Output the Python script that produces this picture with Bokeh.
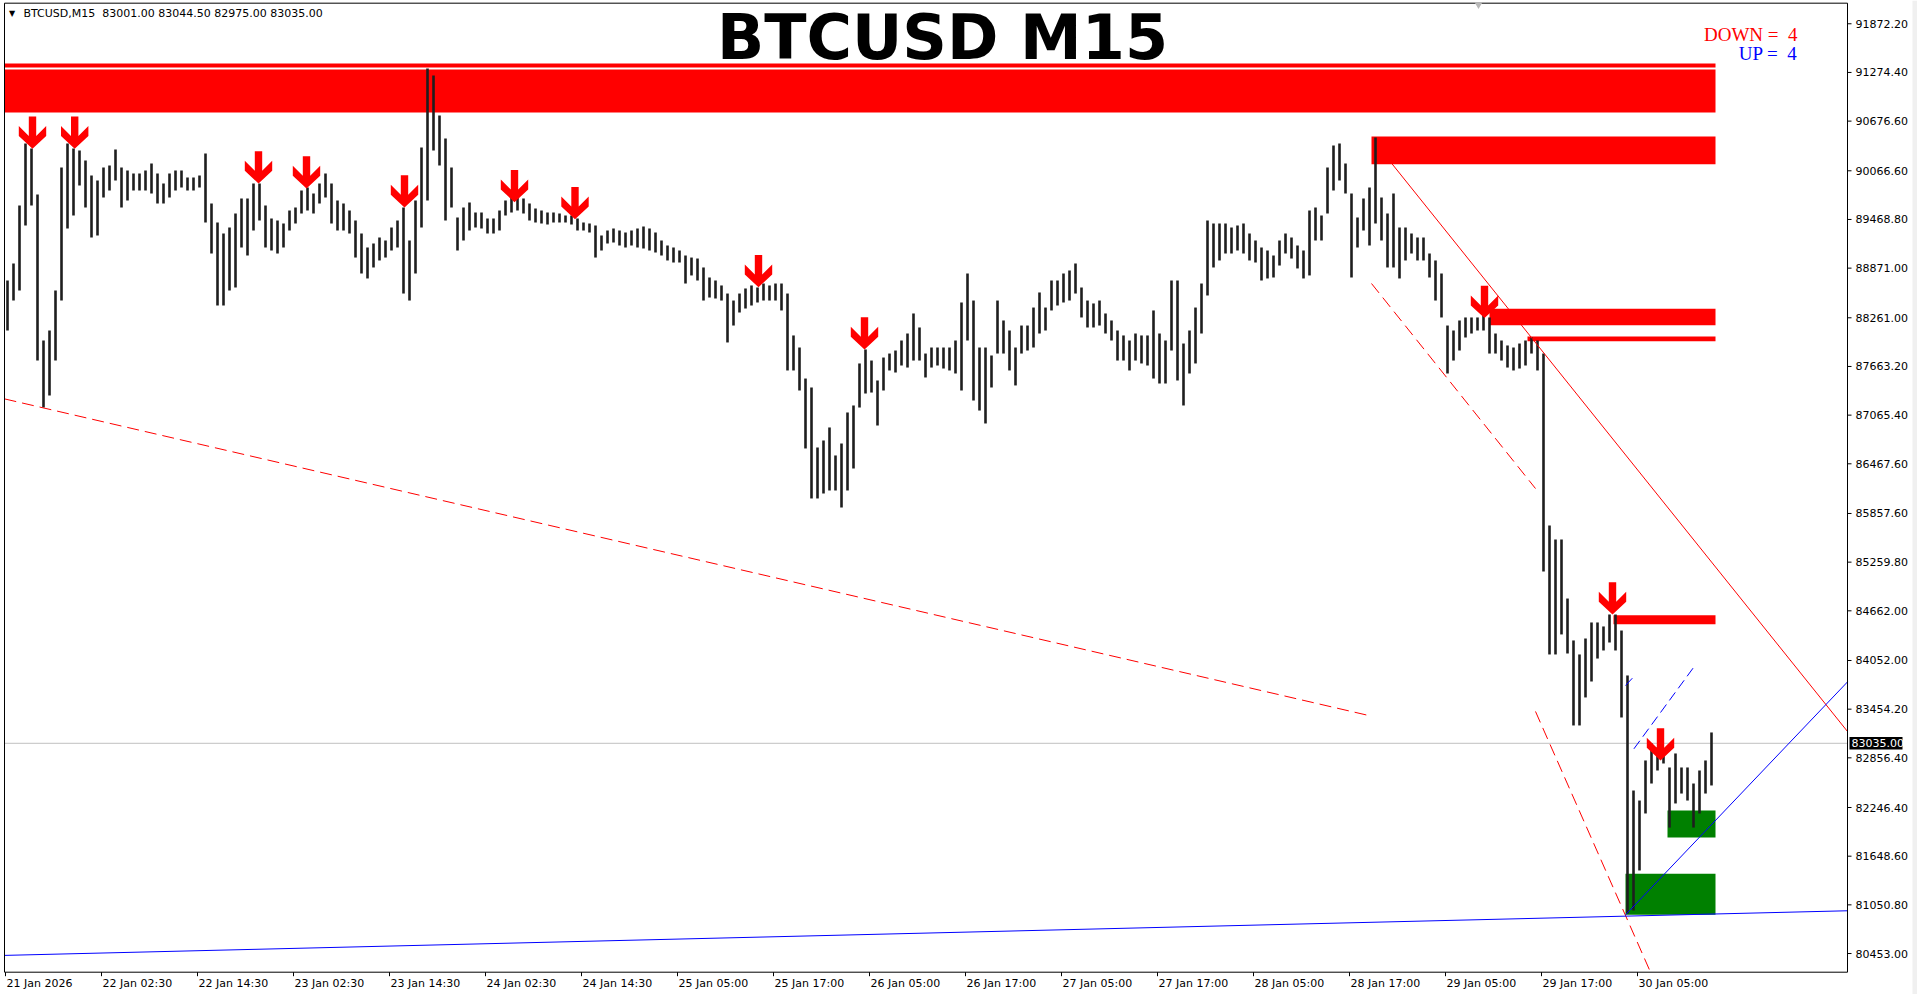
from bokeh.plotting import figure
from bokeh.models import Range1d
from bokeh.core.properties import value
from bokeh.embed import file_html
from bokeh.resources import INLINE

# ---------------- data ----------------
# price bars, one entry per 3 M15 bars (45 min), high / low
highs = [88719, 88928, 89640, 90402, 90340, 89775, 87982, 88105, 88596, 90107,
         90402, 90340, 90316, 90193, 90009, 89947, 90107, 90131, 90328, 90107,
         90070, 90033, 90033, 90070, 90156, 90033, 89910, 90033, 90070, 90070,
         89984, 89984, 90009, 90279, 89665, 89431, 89296, 89370, 89542, 89726,
         89726, 89910, 89910, 89640, 89481, 89456, 89419, 89579, 89616, 89824,
         89861, 89788, 89910, 90033, 89910, 89702, 89665, 89579, 89456, 89296,
         89124, 89174, 89247, 89210, 89370, 89456, 89616, 89210, 89702, 90353,
         91323, 91237, 90746, 90463, 90107, 89493, 89616, 89677, 89554, 89554,
         89481, 89481, 89579, 89702, 89738, 89788, 89726, 89665, 89603, 89579,
         89554, 89554, 89542, 89517, 89517, 89481, 89431, 89419, 89395, 89272,
         89333, 89358, 89333, 89309, 89333, 89358, 89382, 89358, 89309, 89210,
         89149, 89124, 89088, 89026, 89001, 88989, 88879, 88756, 88719, 88658,
         88559, 88473, 88559, 88621, 88658, 88633, 88682, 88658, 88682, 88682,
         88559, 88044, 87896, 87515, 87405, 86668, 86754, 86914, 86570, 86717,
         87098, 87184, 87700, 87872, 87736, 87491, 87773, 87822, 87859, 87982,
         88068, 88314, 88142, 87822, 87896, 87896, 87896, 87896, 87982, 88449,
         88805, 88473, 87896, 87896, 87798, 88473, 88228, 88105, 87896, 88166,
         88166, 88387, 88572, 88387, 88719, 88719, 88805, 88842, 88928, 88633,
         88473, 88437, 88473, 88314, 88228, 88105, 88044, 87982, 88068, 88044,
         88044, 88351, 88068, 87982, 88719, 88719, 87945, 88105, 88387, 88682,
         89456, 89419, 89419, 89419, 89370, 89395, 89419, 89296, 89210, 89124,
         89088, 89026, 89210, 89296, 89247, 89149, 89088, 89579, 89616, 89517,
         90107, 90377, 90402, 90156, 89788, 89493, 89726, 89861, 90475, 89738,
         89542, 89788, 89370, 89370, 89296, 89247, 89247, 89051, 88965, 88805,
         88166, 88105, 88228, 88265, 88265, 88265, 88301, 88265, 88068, 87982,
         87921, 87896, 87945, 87982, 88019, 87982, 87822, 85710, 85538, 85538,
         84813, 84298, 84126, 84322, 84519, 84519, 84470, 84617, 84617, 84420,
         83868, 82455, 82332, 82824, 83033, 82984, 82947, 82738, 82910, 82738,
         82738, 82541, 82701, 82824, 83168]
lows = [88105, 88473, 88596, 89395, 89640, 87736, 87159, 87307, 87736, 88473,
        89358, 89517, 89886, 89616, 89247, 89272, 89738, 89824, 89947, 89616,
        89702, 89824, 89824, 89824, 89788, 89665, 89665, 89738, 89824, 89861,
        89824, 89824, 89861, 89431, 89051, 88412, 88412, 88596, 88633, 89124,
        89026, 89333, 89456, 89124, 89088, 89051, 89124, 89333, 89419, 89542,
        89579, 89542, 89665, 89738, 89419, 89333, 89333, 89296, 89001, 88805,
        88744, 88879, 88965, 89001, 89088, 89124, 88559, 88473, 88805, 89370,
        89702, 90316, 90131, 89456, 89616, 89088, 89210, 89333, 89370, 89358,
        89296, 89296, 89333, 89517, 89554, 89579, 89542, 89456, 89431, 89419,
        89407, 89431, 89431, 89431, 89407, 89333, 89333, 89309, 89001, 89088,
        89174, 89186, 89149, 89124, 89149, 89124, 89112, 89088, 89063, 89026,
        88965, 88940, 88940, 88682, 88781, 88719, 88473, 88510, 88498, 88473,
        87958, 88166, 88326, 88375, 88412, 88449, 88473, 88473, 88473, 88351,
        87614, 87614, 87368, 86656, 86042, 86042, 86103, 86140, 86140, 85931,
        86140, 86410, 87159, 87331, 87343, 86938, 87368, 87614, 87589, 87675,
        87650, 87736, 87736, 87528, 87650, 87675, 87638, 87614, 87577, 87368,
        87982, 87245, 87122, 86963, 87405, 87822, 87822, 87614, 87430, 87822,
        87859, 87896, 88068, 88105, 88351, 88412, 88449, 88473, 88559, 88265,
        88142, 88142, 88166, 88068, 87982, 87736, 87736, 87614, 87736, 87700,
        87675, 87515, 87454, 87454, 87859, 87491, 87184, 87577, 87700, 88068,
        88535, 88879, 88965, 89051, 89051, 89088, 89051, 88965, 88940, 88719,
        88744, 88756, 88903, 89051, 88989, 88867, 88744, 88781, 89210, 89210,
        89542, 89824, 89947, 89788, 88756, 89124, 89333, 89149, 89419, 89210,
        88879, 88879, 88744, 88965, 89051, 88965, 88965, 88756, 88473, 88265,
        87577, 87736, 87859, 88019, 88068, 88105, 88105, 87822, 87822, 87736,
        87650, 87614, 87638, 87675, 87822, 87614, 85145, 84126, 84126, 84372,
        84138, 83254, 83254, 83598, 83794, 84076, 84175, 84273, 84175, 83352,
        80944, 80981, 81473, 82173, 82541, 82701, 82787, 82000, 82296, 82418,
        82332, 82000, 82173, 82418, 82517]
bars_per_sample = 3

# x-axis tick labels (every 48 M15 bars)
x_tick_labels = ["21 Jan 2026", "22 Jan 02:30", "22 Jan 14:30", "23 Jan 02:30", "23 Jan 14:30",
                 "24 Jan 02:30", "24 Jan 14:30", "25 Jan 05:00", "25 Jan 17:00", "26 Jan 05:00",
                 "26 Jan 17:00", "27 Jan 05:00", "27 Jan 17:00", "28 Jan 05:00", "28 Jan 17:00",
                 "29 Jan 05:00", "29 Jan 17:00", "30 Jan 05:00"]
bars_per_label = 48

# price axis ticks
y_ticks = [91872.20, 91274.40, 90676.60, 90066.60, 89468.80, 88871.00, 88261.00, 87663.20,
           87065.40, 86467.60, 85857.60, 85259.80, 84662.00, 84052.00, 83454.20, 82856.40,
           82246.40, 81648.60, 81050.80, 80453.00]

last_price = 83035.00
header_text = "BTCUSD,M15\u00a0\u00a083001.00 83044.50 82975.00 83035.00"
title_text = "BTCUSD M15"

# visible chart window (bar index, price)
chart_left, chart_right = -0.5, 921.0
chart_bottom, chart_top = 80223.6, 92125.0

# supply (red) / demand (green) zones: bar index start/end, price bottom/top
red_zone_left = [-0.5, -0.5, 683, 742, 761, 804]
red_zone_right = [855, 855, 855, 855, 855, 855]
red_zone_bottom = [91335, 90783, 90148, 88170, 87974, 84498]
red_zone_top = [91385, 91310, 90488, 88372, 88032, 84608]
green_zone_left = [831, 810]
green_zone_right = [855, 855]
green_zone_bottom = [81878, 80928]
green_zone_top = [82209, 81432]

# down-signal arrows (bar index of tip, price of tip)
arrow_bar = [13.5, 34.6, 126.5, 150.5, 199.5, 254.5, 284.75, 376.5, 429.5, 739.5, 803.5, 827.5]
arrow_price = [90337, 90337, 89910, 89849, 89616, 89681, 89472, 88637, 87872, 88257, 84617, 82824]

# trend lines (bar index, price)
red_dash_long_x = [-0.5, 681.5]
red_dash_long_y = [87265, 83377]
red_solid_x = [693, 921]
red_solid_y = [90160, 83180]
red_dash_chan_x = [683, 765]
red_dash_chan_y = [88682, 86164]
red_dash_steep_x = [765, 822.5]
red_dash_steep_y = [83426, 80224]
blue_long_x = [-0.5, 921]
blue_long_y = [80430, 80978]
blue_up_x = [810, 921]
blue_up_y = [80928, 83789]
blue_dash_a_x = [810, 814.2]
blue_dash_a_y = [83745, 83855]
blue_dash_b_x = [814.2, 843.9]
blue_dash_b_y = [82967, 83962]

down_count = 4
up_count = 4

# ---------------- figure ----------------
W, H = 1917, 994
PX_PER_BAR = 2.0          # horizontal scale of the original (2 px per M15 bar)
PRICE_PER_PX = 12.282     # vertical scale of the original
FIRST_BAR_PX = 5.0
TOP_PRICE = 92158.0

bx = 1.0 / PX_PER_BAR
py = PRICE_PER_PX
x_start = -FIRST_BAR_PX * bx
p = figure(width=W, height=H,
           x_range=Range1d(x_start, x_start + W * bx),
           y_range=Range1d(TOP_PRICE - H * py, TOP_PRICE),
           x_axis_type=None, y_axis_type=None,
           output_backend="svg", toolbar_location=None,
           min_border_left=0, min_border_right=0, min_border_top=0, min_border_bottom=0)
p.grid.visible = False
p.background_fill_color = "white"
p.border_fill_color = "white"
p.outline_line_color = None

FONT = value("DejaVu Sans")

# light strip at the very right of the window
p.quad(left=[x_start + 1912 * bx], right=[x_start + W * bx], bottom=[TOP_PRICE - H * py],
       top=[TOP_PRICE], fill_color="#F0F0F0", line_color=None)

# zones
p.quad(left=red_zone_left, right=red_zone_right, bottom=red_zone_bottom, top=red_zone_top,
       fill_color="#FF0000", line_color=None)
p.quad(left=green_zone_left, right=green_zone_right, bottom=green_zone_bottom, top=green_zone_top,
       fill_color="#008000", line_color=None)

# current price line
p.line([chart_left, chart_right], [last_price, last_price], line_color="#C0C0C0", line_width=1)

# bars
bar_x = [bars_per_sample * k + 1 for k in range(len(highs))]
p.segment(x0=bar_x, y0=lows, x1=bar_x, y1=highs, line_color="#1e1e1e", line_width=2.6)

# trend lines
p.line(red_dash_long_x, red_dash_long_y, line_color="#FF0000", line_width=1, line_dash="12 6")
p.line(red_solid_x, red_solid_y, line_color="#FF0000", line_width=1)
p.line(red_dash_chan_x, red_dash_chan_y, line_color="#FF0000", line_width=1, line_dash="12 6")
p.line(red_dash_steep_x, red_dash_steep_y, line_color="#FF0000", line_width=1, line_dash="12 6")
p.line(blue_long_x, blue_long_y, line_color="#0000FF", line_width=1)
p.line(blue_up_x, blue_up_y, line_color="#0000FF", line_width=1)
p.line(blue_dash_a_x, blue_dash_a_y, line_color="#0000FF", line_width=1, line_dash="10 5")
p.line(blue_dash_b_x, blue_dash_b_y, line_color="#0000FF", line_width=1, line_dash="10 5")

# arrows (shape in pixels, converted to data units)
shape = [(-3.7, 32.3), (3.7, 32.3), (3.7, 12.7), (13.7, 22.7), (13.7, 12.7), (0, 0),
         (-13.7, 12.7), (-13.7, 22.7), (-3.7, 12.7)]
axs = [[b + dx * bx for dx, dy in shape] for b in arrow_bar]
ays = [[pr + dy * py for dx, dy in shape] for pr in arrow_price]
p.patches(axs, ays, fill_color="#FF0000", line_color=None)

# chart frame
p.multi_line(xs=[[chart_left, chart_left], [chart_left, chart_right], [chart_right, chart_right],
                 [chart_left, chart_right]],
             ys=[[chart_bottom, chart_top], [chart_top, chart_top], [chart_bottom, chart_top],
                 [chart_bottom, chart_bottom]],
             line_color="black", line_width=1)

# price scale (right)
p.segment(x0=[chart_right] * len(y_ticks), y0=y_ticks, x1=[chart_right + 4 * bx] * len(y_ticks),
          y1=y_ticks, line_color="black", line_width=1)
p.text(x=[chart_right + 8 * bx] * len(y_ticks), y=y_ticks, text=[f"{v:.2f}" for v in y_ticks],
       text_font=FONT, text_font_size="11px", text_color="black",
       text_align="left", text_baseline="middle")

# time scale (bottom)
tick_bars = [i * bars_per_label for i in range(len(x_tick_labels))]
p.segment(x0=tick_bars, y0=[chart_bottom] * len(tick_bars), x1=tick_bars,
          y1=[chart_bottom - 4 * py] * len(tick_bars), line_color="black", line_width=1)
p.text(x=[t + 1 * bx for t in tick_bars], y=[chart_bottom - 11.8 * py] * len(tick_bars),
       text=x_tick_labels, text_font=FONT, text_font_size="11px", text_color="black",
       text_align="left", text_baseline="middle")

# current price tag on the price scale
p.quad(left=[chart_right + 2 * bx], right=[chart_right + 55 * bx],
       bottom=[last_price - 6.2 * py], top=[last_price + 6.2 * py],
       fill_color="black", line_color=None)
p.text(x=[chart_right + 4 * bx], y=[last_price], text=[f"{last_price:.2f}"], text_font=FONT,
       text_font_size="11px", text_color="white", text_align="left", text_baseline="middle")

# chart-shift marker at top
p.scatter(x=[736.5], y=[TOP_PRICE - 4 * py], marker="inverted_triangle", size=8,
          fill_color="#B8B8B8", line_color=None)

# header text
p.text(x=[chart_left + 7.5 * bx], y=[TOP_PRICE - 12.5 * py], text=["\u25bc"], text_font=FONT,
       text_font_size="8px", text_color="black", text_align="center", text_baseline="middle")
p.text(x=[chart_left + 19 * bx], y=[TOP_PRICE - 12.8 * py], text=[header_text], text_font=FONT,
       text_font_size="11px", text_color="black", text_align="left", text_baseline="middle")

# title (kept fully inside the canvas)
p.text(x=[468.5], y=[TOP_PRICE - 36.5 * py], text=[title_text], text_font=FONT,
       text_font_size="62px", text_font_style="bold", text_color="black",
       text_align="center", text_baseline="middle")

# counters
p.text(x=[896.0, 896.0], y=[TOP_PRICE - 33.7 * py, TOP_PRICE - 53 * py],
       text=[f"DOWN =\u00a0\u00a0{down_count}", f"UP =\u00a0\u00a0{up_count}"],
       text_color=["#FF0000", "#0000FF"], text_font=value("Liberation Serif"),
       text_font_size="19px", text_align="right", text_baseline="middle")

open("out.html", "w").write(file_html(p, INLINE))
